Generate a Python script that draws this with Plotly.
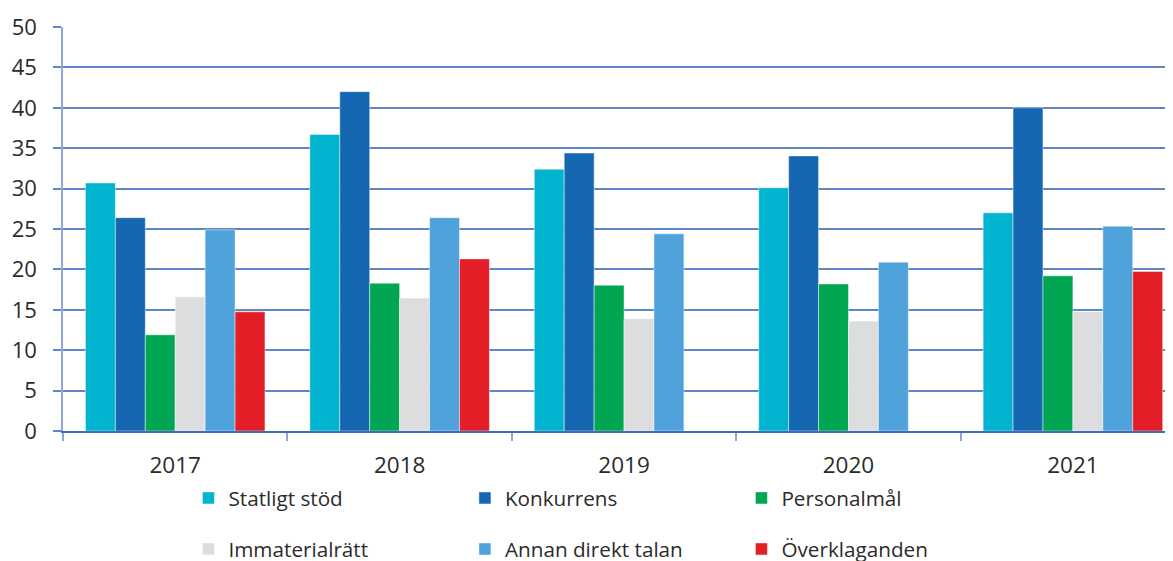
import plotly.graph_objects as go

years = ["2017", "2018", "2019", "2020", "2021"]
statligt_stod = [30.7, 36.7, 32.4, 30.1, 27.0]
konkurrens = [26.4, 42.0, 34.4, 34.05, 40.0]
personalmal = [11.9, 18.3, 18.05, 18.2, 19.2]
immaterialratt = [16.6, 16.45, 13.9, 13.6, 14.75]
annan_direkt_talan = [24.9, 26.4, 24.4, 20.9, 25.35]
overklaganden = [14.75, 21.3, None, None, 19.75]

series = [
    ("Statligt stöd", statligt_stod, "#00B4D0", "legend"),
    ("Konkurrens", konkurrens, "#1567B1", "legend"),
    ("Personalmål", personalmal, "#00A651", "legend"),
    ("Immaterialrätt", immaterialratt, "#DCDDDE", "legend2"),
    ("Annan direkt talan", annan_direkt_talan, "#4FA3DA", "legend2"),
    ("Överklaganden", overklaganden, "#E41E26", "legend2"),
]

fig = go.Figure()
for name, vals, color, leg in series:
    fig.add_trace(go.Bar(
        x=years, y=vals, name=name, legend=leg,
        marker=dict(color=color, line=dict(color="rgba(255,255,255,0.45)", width=1)),
    ))

grid_color = "#5F86C6"
yline_color = "#8EA7D8"
xline_color = "#3F6DB8"
font_color = "#2B2B2B"
legend_common = dict(
    orientation="h", xanchor="left", yanchor="middle",
    font=dict(family="Open Sans", size=20.7, color=font_color),
    entrywidth=231.5, entrywidthmode="pixels",
    bgcolor="rgba(0,0,0,0)", borderwidth=0, itemclick=False,
)

# page body has an 8px default margin, so the figure is offset by 8px
fig.update_layout(
    width=1173, height=561,
    margin=dict(l=55, r=8, t=19, b=138, autoexpand=False),
    barmode="group", bargap=0.2, bargroupgap=0,
    plot_bgcolor="white", paper_bgcolor="white",
    font=dict(family="Open Sans", size=21, color=font_color),
    xaxis=dict(
        type="category", range=[-0.5, 4.446],
        showline=True, linecolor=xline_color, linewidth=2,
        ticks="outside", tickson="boundaries", ticklen=8, tickcolor=yline_color, tickwidth=1.5,
        ticklabelstandoff=13,
        tickfont=dict(family="Open Sans", size=22.5, color=font_color),
        showgrid=False,
    ),
    yaxis=dict(
        range=[0, 50], dtick=5, tick0=0,
        showline=True, linecolor=yline_color, linewidth=1.5,
        showgrid=True, gridcolor=grid_color, gridwidth=1.5,
        ticks="outside", ticklen=8, tickcolor=grid_color, tickwidth=1.5,
        ticklabelstandoff=12,
        tickfont=dict(family="Open Sans", size=22, color=font_color),
        zeroline=False,
    ),
    legend=dict(x=0.113, y=-0.1658, **legend_common),
    legend2=dict(x=0.113, y=-0.2921, **legend_common),
    showlegend=True,
)

fig.write_html("out.html")
